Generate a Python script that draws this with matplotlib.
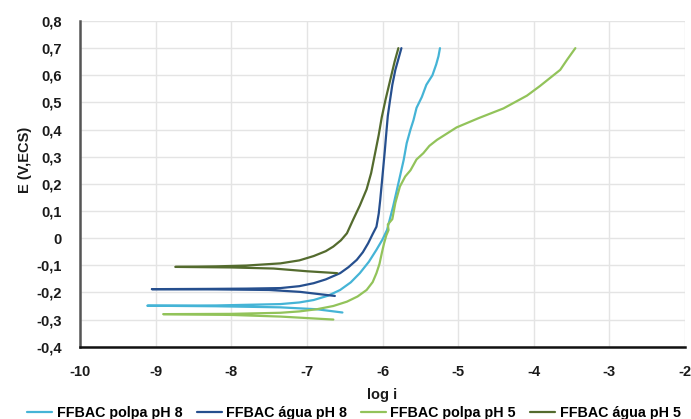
import matplotlib
matplotlib.use("Agg")
import matplotlib.pyplot as plt
from matplotlib.ticker import FixedLocator, FuncFormatter

plt.rcParams['font.family'] = ['Liberation Sans', 'DejaVu Sans']
plt.rcParams['font.weight'] = 'bold'

# Polarization curves: log i (A/cm2) vs E (V vs ECS).
# Each series runs from the cathodic end, back to the corrosion potential,
# then up the anodic branch.
polpa_ph8_logi = [-6.53, -6.87, -7.35, -8.2, -9.11,
                  -8.2, -7.35, -7.1, -6.91, -6.72, -6.56, -6.42, -6.30, -6.18,
                  -6.08, -6.00, -5.94, -5.86, -5.79, -5.72, -5.68, -5.63, -5.59,
                  -5.55, -5.48, -5.42, -5.34, -5.29, -5.26, -5.24]
polpa_ph8_E = [-0.274, -0.262, -0.255, -0.251, -0.249,
               -0.248, -0.243, -0.237, -0.228, -0.212, -0.191, -0.163, -0.129, -0.087,
               -0.043, -0.005, 0.030, 0.116, 0.202, 0.288, 0.350, 0.400, 0.435,
               0.480, 0.520, 0.565, 0.600, 0.640, 0.670, 0.700]

agua_ph8_logi = [-6.63, -7.09, -7.5, -8.2, -9.05,
                 -8.3, -7.8, -7.35, -7.1, -6.91, -6.75, -6.56, -6.45, -6.34,
                 -6.26, -6.19, -6.13, -6.08, -6.05, -6.03, -6.01, -5.99, -5.97,
                 -5.95, -5.93, -5.90, -5.87, -5.83, -5.79, -5.75]
agua_ph8_E = [-0.213, -0.198, -0.191, -0.189, -0.188,
              -0.187, -0.186, -0.184, -0.177, -0.166, -0.152, -0.129, -0.107, -0.080,
              -0.052, -0.019, 0.015, 0.042, 0.090, 0.141, 0.200, 0.260, 0.320,
              0.386, 0.450, 0.509, 0.565, 0.620, 0.660, 0.700]

polpa_ph5_logi = [-6.65, -7.35, -8.0, -8.90,
                  -8.0, -7.35, -7.1, -6.87, -6.65, -6.47, -6.33, -6.21, -6.13,
                  -6.08, -6.04, -6.01, -5.98, -5.95, -5.92, -5.93, -5.87, -5.83,
                  -5.77, -5.70, -5.63, -5.55, -5.46, -5.38, -5.28, -5.02, -4.73,
                  -4.40, -4.09, -3.92, -3.65, -3.56, -3.45]
polpa_ph5_E = [-0.300, -0.289, -0.283, -0.280,
               -0.279, -0.275, -0.270, -0.262, -0.250, -0.234, -0.215, -0.191, -0.162,
               -0.129, -0.095, -0.056, -0.020, 0.010, 0.030, 0.050, 0.070, 0.130,
               0.190, 0.227, 0.250, 0.290, 0.313, 0.340, 0.362, 0.408, 0.442,
               0.478, 0.525, 0.560, 0.620, 0.657, 0.700]

agua_ph5_logi = [-6.60, -7.0, -7.44, -8.0, -8.74,
                 -8.2, -7.8, -7.35, -7.1, -6.91, -6.75, -6.65, -6.55, -6.47,
                 -6.39, -6.30, -6.21, -6.15, -6.10, -6.05, -6.01, -5.96, -5.90,
                 -5.84, -5.79]
agua_ph5_E = [-0.129, -0.122, -0.112, -0.108, -0.106,
              -0.104, -0.101, -0.093, -0.082, -0.066, -0.048, -0.031, -0.008, 0.018,
              0.067, 0.120, 0.180, 0.240, 0.310, 0.380, 0.445, 0.510, 0.580,
              0.650, 0.700]

series_labels = ["FFBAC polpa pH 8", "FFBAC água pH 8",
                 "FFBAC polpa pH 5", "FFBAC água pH 5"]
series_colors = ["#45B4D6", "#264F8E", "#92C35A", "#546B2E"]

x_ticks = [-10, -9, -8, -7, -6, -5, -4, -3, -2]
y_ticks = [-0.4, -0.3, -0.2, -0.1, 0.0, 0.1, 0.2, 0.3, 0.4, 0.5, 0.6, 0.7, 0.8]

fig = plt.figure(figsize=(6.91, 4.19), dpi=100)
ax = fig.add_axes([80 / 691, 1 - 346.7 / 419, 605 / 691, 325.7 / 419])

series = [(polpa_ph8_logi, polpa_ph8_E), (agua_ph8_logi, agua_ph8_E),
          (polpa_ph5_logi, polpa_ph5_E), (agua_ph5_logi, agua_ph5_E)]
for (xs, ys), lab, col in zip(series, series_labels, series_colors):
    ax.plot(xs, ys, color=col, lw=1.6, label=lab,
            solid_joinstyle='round', solid_capstyle='round')

ax.set_xlim(-10, -2)
ax.set_ylim(-0.4, 0.8)
ax.xaxis.set_major_locator(FixedLocator(x_ticks))
ax.yaxis.set_major_locator(FixedLocator(y_ticks))


def comma_fmt(v, pos):
    if abs(v) < 1e-9:
        return "0"
    return f"{v:.1f}".replace(".", ",")


ax.xaxis.set_major_formatter(FuncFormatter(lambda v, p: f"{int(round(v))}"))
ax.yaxis.set_major_formatter(FuncFormatter(comma_fmt))

ax.grid(True, color="#e4e4e4", lw=1.0)
ax.set_axisbelow(True)
ax.tick_params(length=0, labelsize=10.5, colors="#1a1a1a")
ax.tick_params(axis='y', pad=13)
ax.tick_params(axis='x', pad=13)
for lbl in ax.get_xticklabels() + ax.get_yticklabels():
    lbl.set_fontweight('bold')

for side in ("top", "right"):
    ax.spines[side].set_visible(False)
ax.spines["left"].set_color("#555555")
ax.spines["left"].set_linewidth(1.8)
ax.spines["bottom"].set_color("#111111")
ax.spines["bottom"].set_linewidth(1.8)

ax.set_xlabel("log i", fontsize=10.5, fontweight='bold', color="#1a1a1a")
ax.set_ylabel("E (V,ECS)", fontsize=10.5, fontweight='bold', color="#1a1a1a")
ax.xaxis.set_label_coords(0.5, (346.7 - 388) / 325.7)
ax.yaxis.set_label_coords((32 - 80) / 605, (346.7 - 160) / 325.7)

fig.legend(loc="center", bbox_to_anchor=(354 / 691, 1 - 413 / 419), ncol=4,
           frameon=False, handlelength=1.75, handletextpad=0.3,
           columnspacing=1.0, prop={'weight': 'bold', 'size': 10.3})

fig.savefig("out.png", dpi=100)
